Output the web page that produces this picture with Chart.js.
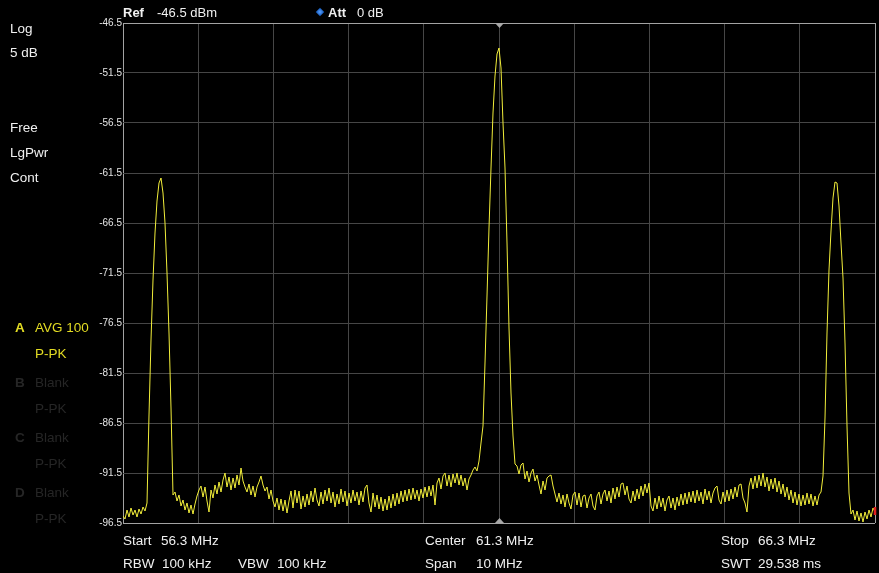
<!DOCTYPE html>
<html><head><meta charset="utf-8">
<script src="https://cdn.jsdelivr.net/npm/chart.js@4/dist/chart.umd.min.js"></script>
<style>
html,body{margin:0;padding:0;background:#000;}
#wrap{position:relative;width:879px;height:573px;background:#000;overflow:hidden;font-family:"Liberation Sans",Arial,sans-serif;font-size:13px;color:#f0f0f0;}
canvas{position:absolute;left:0;top:0;}
.t{position:absolute;white-space:pre;line-height:13px;}
.b{font-weight:bold;}
.y{color:#e3dc23;}
.d{color:#262626;}
.s{font-size:13.5px;}
#dia{position:absolute;left:317px;top:9px;width:6px;height:6px;transform:rotate(45deg);background:radial-gradient(circle,#5aa0ff,#0a50b0);}
</style></head><body>
<div id="wrap">
<canvas id="c" width="879" height="573"></canvas>
<div class="t b" style="left:123px;top:6px">Ref</div>
<div class="t" style="left:157px;top:6px">-46.5 dBm</div>
<div id="dia"></div>
<div class="t b" style="left:328px;top:6px">Att</div>
<div class="t" style="left:357px;top:6px">0 dB</div>

<div class="t s" style="left:10px;top:22px">Log</div>
<div class="t s" style="left:10px;top:46px">5 dB</div>
<div class="t s" style="left:10px;top:121px">Free</div>
<div class="t s" style="left:10px;top:146px">LgPwr</div>
<div class="t s" style="left:10px;top:171px">Cont</div>

<div class="t s b y" style="left:15px;top:321px">A</div>
<div class="t s y" style="left:35px;top:321px">AVG 100</div>
<div class="t s y" style="left:35px;top:347px">P-PK</div>
<div class="t s b d" style="left:15px;top:376px">B</div>
<div class="t s d" style="left:35px;top:376px">Blank</div>
<div class="t s d" style="left:35px;top:402px">P-PK</div>
<div class="t s b d" style="left:15px;top:431px">C</div>
<div class="t s d" style="left:35px;top:431px">Blank</div>
<div class="t s d" style="left:35px;top:457px">P-PK</div>
<div class="t s b d" style="left:15px;top:486px">D</div>
<div class="t s d" style="left:35px;top:486px">Blank</div>
<div class="t s d" style="left:35px;top:512px">P-PK</div>

<div class="t s" style="left:123px;top:534px">Start</div>
<div class="t s" style="left:161px;top:534px">56.3 MHz</div>
<div class="t s" style="left:425px;top:534px">Center</div>
<div class="t s" style="left:476px;top:534px">61.3 MHz</div>
<div class="t s" style="left:721px;top:534px">Stop</div>
<div class="t s" style="left:758px;top:534px">66.3 MHz</div>
<div class="t s" style="left:123px;top:557px">RBW</div>
<div class="t s" style="left:162px;top:557px">100 kHz</div>
<div class="t s" style="left:238px;top:557px">VBW</div>
<div class="t s" style="left:277px;top:557px">100 kHz</div>
<div class="t s" style="left:425px;top:557px">Span</div>
<div class="t s" style="left:476px;top:557px">10 MHz</div>
<div class="t s" style="left:721px;top:557px">SWT</div>
<div class="t s" style="left:758px;top:557px">29.538 ms</div>
</div>
<script>
const startFreq = 56.3;
const stopFreq = 66.3;
const centerFreq = 61.3;
const xGridFreqs = [56.3,57.3,58.3,59.3,60.3,61.3,62.3,63.3,64.3,65.3,66.3];
const yTicks = [-96.5,-91.5,-86.5,-81.5,-76.5,-71.5,-66.5,-61.5,-56.5,-51.5,-46.5];
const yTickLabels = ['-96.5','-91.5','-86.5','-81.5','-76.5','-71.5','-66.5','-61.5','-56.5','-51.5','-46.5'];
// Trace A levels (dBm), equally spaced sweep points from start to stop
const traceA = [
-95.8,-96.1,-95.2,-95.9,-95.0,-95.7,-95.2,-95.9,-95.1,-95.6,-94.9,-95.3,
-94.5,-85.7,-78.2,-72.2,-67.5,-64.3,-62.5,-62.0,-63.5,-66.5,-71.5,-77.5,-85.0,-93.7,
-93.4,-94.3,-93.7,-94.8,-94.2,-95.2,-94.5,-95.5,-94.7,-95.6,-94.6,
-93.8,-93.2,-92.8,-93.9,-92.9,-94.3,-95.4,-93.2,-94.0,-92.7,-93.6,-92.4,-93.4,-92.2,
-91.5,-92.9,-91.9,-93.2,-92.0,-93.0,-91.7,-92.7,-91.0,-92.3,-92.9,-93.4,-92.6,-93.7,-92.8,-93.9,-92.9,
-92.4,-91.8,-92.7,-93.3,-92.9,-94.1,-93.2,-94.3,-94.9,-94.0,-95.2,-94.1,-95.3,-94.2,-95.5,-94.3,
-93.3,-95.0,-93.2,-94.5,-93.3,-95.1,-93.8,-94.9,-93.6,-94.7,-93.3,-94.4,-93.0,-94.2,-94.8,-93.4,-94.6,-93.2,-94.3,
-93.0,-94.5,-93.4,-94.9,-93.6,-94.6,-93.1,-94.4,-93.3,-94.8,-93.5,-94.5,-93.2,-94.3,-93.4,-94.7,-93.3,-94.4,-93.0,
-92.7,-94.5,-95.4,-93.5,-94.9,-93.7,-95.1,-93.9,-95.3,-94.1,-95.2,-93.8,-95.0,-93.6,-94.8,-93.5,-94.6,-93.3,
-94.4,-93.2,-94.3,-93.1,-94.2,-93.0,-94.1,-93.2,-94.3,-93.1,-94.0,-92.9,-93.9,-92.8,-93.8,-92.7,-94.7,
-92.5,-92.0,-93.1,-91.8,-91.5,-92.8,-91.7,-92.9,-91.6,-92.5,-91.5,-92.7,-91.7,-92.8,-92.0,-93.2,-92.1,-91.7,-91.2,-90.9,
-91.3,-90.3,-88.5,-86.8,-80.5,-73.8,-67.0,-61.0,-55.5,-51.8,-49.6,-49.0,-51.0,-56.5,
-61.0,-68.5,-77.0,-83.5,-87.8,-90.6,
-90.8,-91.6,-90.7,-90.5,-92.1,-91.3,-92.4,-91.5,-91.1,-92.3,-91.7,-92.7,-93.6,-92.3,-93.2,-92.0,-91.8,-91.7,-92.8,-93.6,
-94.4,-93.5,-94.6,-93.7,-94.9,-93.6,-94.5,-95.1,-93.7,-93.4,-94.7,-93.5,-94.9,-93.8,-93.7,-95.0,-94.0,-93.6,-94.8,-95.2,
-93.8,-93.4,-94.6,-93.6,-93.2,-94.3,-93.3,-94.5,-93.0,-94.1,-92.9,-93.9,-92.6,-92.5,-93.7,-92.8,-94.1,-94.5,-93.3,-94.3,
-93.1,-94.1,-92.8,-93.8,-92.6,-93.5,-92.5,
-94.8,-95.3,-94.0,-95.1,-93.8,-94.9,-94.0,-95.3,-94.2,-93.8,-95.0,-94.0,-95.2,-93.9,-94.8,-93.6,-94.7,-93.5,-94.6,
-93.4,-94.4,-93.3,-94.5,-93.2,-94.3,-93.4,-94.6,-93.1,-94.2,-93.3,-94.5,-93.5,-93.0,-92.8,-94.2,-94.6,-93.4,-94.4,
-93.2,-94.3,-93.1,-94.1,-92.9,-93.9,-92.7,-92.6,-94.0,-94.5,
-95.4,-92.8,-92.0,-93.1,-91.8,-93.0,-91.7,-92.8,-91.5,-92.9,-91.9,-93.3,-92.1,-93.1,-92.0,-93.4,-92.3,-93.6,-92.6,
-93.9,-92.9,-94.2,-93.2,-94.5,-93.4,-94.7,-93.6,-94.8,-93.7,-94.7,-93.5,-94.6,-93.6,-94.8,-93.8,-94.7,-93.7,
-93.4,-91.8,
-86.0,-77.5,-71.2,-67.3,-64.0,-62.4,-62.5,-64.8,-68.5,-72.0,-78.5,-86.8,-93.5,-95.6,
-95.2,-96.2,-95.3,-96.3,-95.5,-96.4,-95.4,-96.1,-95.2,-95.9,-95.0,-95.4
];

const gridCol = '#464646', edgeCol = '#a3a3a3';
const pts = traceA.map((v, i) => ({ x: startFreq + i * (stopFreq - startFreq) / (traceA.length - 1), y: v }));
const lastIdx = traceA.length - 1;

const markerPlugin = {
  id: 'centerMarkers',
  afterDraw(chart) {
    const ctx = chart.ctx, a = chart.chartArea;
    const x = Math.round(chart.scales.x.getPixelForValue(centerFreq)) + 0.5;
    ctx.save();
    ctx.fillStyle = '#a8a8a8';
    ctx.beginPath(); ctx.moveTo(x - 4.5, a.top); ctx.lineTo(x + 4.5, a.top); ctx.lineTo(x, a.top + 5); ctx.closePath(); ctx.fill();
    ctx.beginPath(); ctx.moveTo(x - 4.5, a.bottom); ctx.lineTo(x + 4.5, a.bottom); ctx.lineTo(x, a.bottom - 5); ctx.closePath(); ctx.fill();
    // red end-of-trace indicator at the last sweep point
    const el = chart.getDatasetMeta(0).data[lastIdx];
    if (el) {
      ctx.strokeStyle = '#e02020'; ctx.lineWidth = 2.5;
      ctx.beginPath(); ctx.moveTo(el.x, el.y - 5); ctx.lineTo(el.x, el.y + 3); ctx.stroke();
    }
    ctx.restore();
  }
};

new Chart(document.getElementById('c'), {
  type: 'line',
  data: { datasets: [{
    data: pts, borderColor: '#f2ee3a', borderWidth: 1, tension: 0, fill: false, pointRadius: 0
  }] },
  options: {
    responsive: false, animation: false, devicePixelRatio: 1,
    layout: { padding: { left: 0, top: 23, right: 4, bottom: 50 } },
    plugins: { legend: { display: false }, tooltip: { enabled: false } },
    scales: {
      x: {
        type: 'linear', min: startFreq, max: stopFreq,
        afterBuildTicks: s => { s.ticks = xGridFreqs.map(v => ({ value: v })); },
        afterFit: s => { s.height = 0; },
        ticks: { display: false },
        border: { display: false },
        grid: { drawTicks: false, lineWidth: 1, color: c => (c.index === 0 || c.index === xGridFreqs.length - 1) ? edgeCol : gridCol }
      },
      y: {
        type: 'linear', min: yTicks[0], max: yTicks[yTicks.length - 1],
        afterBuildTicks: s => { s.ticks = yTicks.map(v => ({ value: v })); },
        afterFit: s => { s.width = 123; },
        ticks: { color: '#e4e4e4', padding: 1, font: { family: '"Liberation Sans", Arial, sans-serif', size: 10 },
                 callback: (v, i) => yTickLabels[i] },
        border: { display: false },
        grid: { drawTicks: false, lineWidth: 1, color: c => (c.index === 0 || c.index === yTicks.length - 1) ? edgeCol : gridCol }
      }
    }
  },
  plugins: [markerPlugin]
});
</script>
</body></html>
